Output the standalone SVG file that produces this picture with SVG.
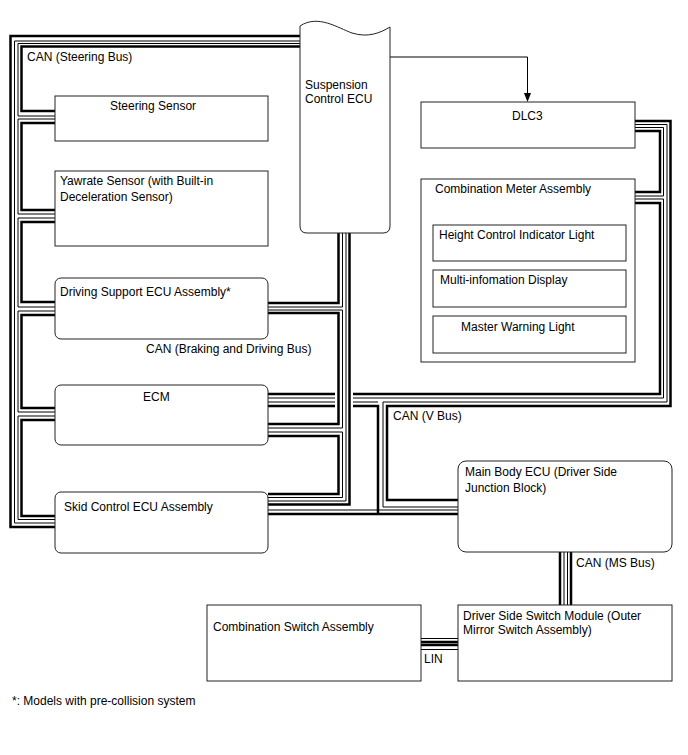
<svg xmlns="http://www.w3.org/2000/svg" width="688" height="755" viewBox="0 0 688 755">
<style>
.box{fill:#fff;stroke:#222;stroke-width:1}
.tk{fill:none;stroke:#000;stroke-width:2.5}
.tn{fill:none;stroke:#000;stroke-width:1}
.ln{fill:none;stroke:#000;stroke-width:1}
text{font-family:"Liberation Sans",Arial,sans-serif;font-size:12px;fill:#000}
</style>
<rect width="688" height="755" fill="#fff"/>
<g id="connectors">
<!-- Steering bus -->
<path class="tk" d="M300,36 H10.5 V527 H55"/>
<path class="tn" d="M300,41 H14.5 V523 H55"/>
<path class="tn" d="M300,43.5 H18 V116 H55 M55,119 H18 V214 H55 M55,218 H18 V307 H55 M55,311 H18 V412 H55 M55,416 H18 V519.5 H55"/>
<path class="tk" d="M300,46.5 H21.5 V111 H55 M55,123 H21.5 V210 H55 M55,222 H21.5 V302 H55 M55,315 H21.5 V408 H55 M55,420 H21.5 V516 H55"/>
<!-- Braking and driving bus -->
<path class="tk" d="M338.5,232 V303 H268 M268,313 H338.5 V424 H268 M268,436 H338.5 V494 H268"/>
<path class="tn" d="M342.5,232 V307 H268 M268,310 H342.5 V428 H268 M268,432 H342.5 V497.5 H268"/>
<path class="tn" d="M346,232 V501 H268"/>
<path class="tk" d="M349.5,232 V504.5 H268"/>
<!-- V bus -->
<path class="tk" d="M635,121 H670.5 V406 H387 V500 H459"/>
<path class="tn" d="M635,124.5 H667 V402 H383 V507 H459"/>
<path class="tn" d="M635,127.5 H663.5 V196 H635 M635,199 H663.5 V398 H353 M335,398 H268"/>
<path class="tk" d="M635,131 H660 V192 H635 M635,203 H660 V394 H353 M335,394 H268"/>
<path class="tn" d="M268,402 H335 M353,402 H378"/>
<path class="tk" d="M268,406 H335 M353,406 H378 V514"/>
<path class="tn" d="M268,510 H459"/>
<path class="tk" d="M268,514 H459"/>
<!-- MS bus -->
<path class="tk" d="M560,552 V605 M571,552 V605"/>
<path class="tn" d="M564,552 V605 M567.5,552 V605"/>
<!-- LIN -->
<path class="tn" d="M421,638.5 H459 M421,649.5 H459"/>
<path class="tk" d="M421,642 H459 M421,645 H459"/>
<!-- Suspension to DLC3 -->
<path class="ln" d="M390,57 H527.5 V94"/>
<path d="M524,93 L531,93 L527.5,102 Z" fill="#000"/>
</g>
<g id="susp">
<path class="box" d="M300,26 C318,14 338,28 352,33 C368,38 380,33 390,27 V226 Q390,233 383,233 H307 Q300,233 300,226 Z"/>
<text x="305" y="89">Suspension</text>
<text x="305" y="102.5">Control ECU</text>
</g>
<g id="steering"><rect class="box" x="55" y="96" width="213" height="45"/><text x="110" y="110">Steering Sensor</text></g>
<g id="yawrate"><rect class="box" x="55" y="171" width="213" height="75"/><text x="60" y="185">Yawrate Sensor (with Built-in</text><text x="60" y="201">Deceleration Sensor)</text></g>
<g id="dsecu"><rect class="box" x="55" y="278" width="213" height="61" rx="6"/><text x="60" y="296">Driving Support ECU Assembly*</text></g>
<text x="146" y="353">CAN (Braking and Driving Bus)</text>
<g id="ecm"><rect class="box" x="55" y="385" width="213" height="60" rx="6"/><text x="143" y="401">ECM</text></g>
<g id="skid"><rect class="box" x="55" y="492" width="213" height="61" rx="6"/><text x="64" y="511">Skid Control ECU Assembly</text></g>
<g id="dlc3"><rect class="box" x="421" y="102" width="214" height="46"/><text x="512" y="120">DLC3</text></g>
<g id="meter"><rect class="box" x="421" y="179" width="214" height="183"/><text x="435" y="193">Combination Meter Assembly</text>
<rect class="box" x="433" y="225" width="193" height="36"/><text x="439" y="239">Height Control Indicator Light</text>
<rect class="box" x="433" y="270" width="193" height="37"/><text x="440" y="284">Multi-infomation Display</text>
<rect class="box" x="433" y="316" width="193" height="37"/><text x="461" y="331">Master Warning Light</text></g>
<text x="393" y="420">CAN (V Bus)</text>
<g id="mainbody"><rect class="box" x="458" y="461" width="214" height="91" rx="8"/><text x="465" y="476">Main Body ECU (Driver Side</text><text x="465" y="492">Junction Block)</text></g>
<text x="576" y="567">CAN (MS Bus)</text>
<g id="dssm"><rect class="box" x="458" y="605" width="214" height="76"/><text x="463" y="620">Driver Side Switch Module (Outer</text><text x="463" y="634">Mirror Switch Assembly)</text></g>
<g id="cswitch"><rect class="box" x="207" y="605" width="214" height="76"/><text x="213" y="631">Combination Switch Assembly</text></g>
<text x="424" y="663">LIN</text>
<text x="12" y="705">*: Models with pre-collision system</text>
<text x="27" y="61">CAN (Steering Bus)</text>
</svg>
